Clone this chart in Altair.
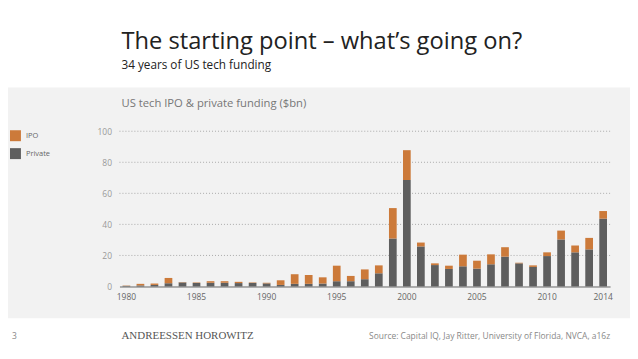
import altair as alt
import pandas as pd

years = list(range(1980, 2015))
private = [0.4, 0.7, 1.0, 2.1, 2.6, 2.3, 2.4, 2.4, 2.2, 2.3, 2.0, 1.0, 1.7, 1.7, 1.9,
           3.4, 3.4, 4.7, 8.5, 30.9, 68.6, 25.8, 13.8, 11.3, 13.0, 11.5, 14.3, 19.2,
           14.9, 12.6, 19.6, 30.3, 22.0, 23.9, 43.7]
ipo = [0.2, 1.0, 0.9, 3.4, 0.2, 0.3, 1.0, 1.0, 0.8, 0.3, 0.4, 3.0, 6.2, 5.7, 4.0,
       10.0, 3.4, 6.3, 5.1, 19.6, 19.2, 2.5, 1.1, 2.1, 7.5, 5.1, 6.4, 6.1,
       0.4, 1.0, 2.4, 5.7, 4.4, 7.4, 4.9]
series = ["IPO", "Private"]
colors = ["#CC7A3A", "#5E5E5E"]
tick_years = [1980, 1985, 1990, 1995, 2000, 2005, 2010, 2014]
y_ticks = [0, 20, 40, 60, 80, 100]

rows = []
for y, p, i in zip(years, private, ipo):
    rows.append({"year": y, "series": "Private", "value": p, "ord": 0})
    rows.append({"year": y, "series": "IPO", "value": i, "ord": 1})
df = pd.DataFrame(rows)

# plot origin is at screen (120, 131)
OX, OY = 120, 131
FONT = "Open Sans"

yscale = alt.Scale(domain=[0, 100], nice=False)
yaxis = alt.Axis(title=None, values=y_ticks, domain=False,
                 ticks=False, labelColor="#999999", labelFontSize=8.5,
                 labelFont=FONT, labelPadding=8, grid=False, zindex=1)

one = pd.DataFrame({"a": [0]})

band = alt.Chart(one).mark_rect(color="#F2F2F2").encode(
    x=alt.value(0 - OX), x2=alt.value(640 - OX),
    y=alt.value(87 - OY), y2=alt.value(319 - OY))

grid = alt.Chart(pd.DataFrame({"value": y_ticks[1:]})).mark_rule(
    color="#aaaaaa", strokeDash=[1, 2], strokeWidth=1).encode(
    y=alt.Y("value:Q", scale=yscale, axis=yaxis),
    x=alt.value(0), x2=alt.value(495))

bars = alt.Chart(df).mark_bar().encode(
    x=alt.X("year:O",
            scale=alt.Scale(paddingInner=0.45, paddingOuter=0.22),
            axis=alt.Axis(title=None, values=tick_years, labelAngle=0, ticks=False,
                          domainColor="#666666", domainWidth=1, labelColor="#666666",
                          labelFontSize=8.5, labelFont=FONT, labelPadding=6,
                          grid=False, zindex=1)),
    y=alt.Y("value:Q", stack="zero", scale=yscale, axis=yaxis),
    color=alt.Color("series:N",
                    scale=alt.Scale(domain=series, range=colors),
                    legend=alt.Legend(title=None, orient="none", legendX=10 - OX,
                                      legendY=130 - OY, symbolType="square",
                                      symbolSize=121, symbolStrokeWidth=0,
                                      symbolOpacity=1, labelFontSize=7.5,
                                      labelFont=FONT, labelColor="#666666",
                                      labelOffset=5, rowPadding=7, padding=0)),
    order=alt.Order("ord:Q", sort="ascending"),
)


def txt(text, x, y, size, color, font=FONT, align="left", weight="normal"):
    return alt.Chart(pd.DataFrame({"t": [text]})).mark_text(
        align=align, baseline="alphabetic", fontSize=size, color=color,
        font=font, fontWeight=weight).encode(
        text="t:N", x=alt.value(x - OX), y=alt.value(y - OY))


title = txt("The starting point \u2013 what\u2019s going on?", 122, 48, 23.8, "#222222")
subtitle = txt("34 years of US tech funding", 122, 68, 11.8, "#222222")
ctitle = txt("US  tech IPO & private funding ($bn)", 122, 107, 11.3, "#777777")
page = txt("3", 12, 340, 8.5, "#888888")
logo = txt("ANDREESSEN HOROWITZ", 122, 340, 11, "#555555", font="Liberation Serif")
source = txt("Source: Capital IQ, Jay Ritter, University of Florida, NVCA, a16z",
             613, 340, 8.5, "#888888", align="right")

chart = alt.layer(band, grid, bars, title, subtitle, ctitle, page, logo, source).properties(
    width=493, height=156,
    autosize=alt.AutoSizeParams(type="none"),
    padding={"left": OX - 8, "top": OY - 8, "right": 20, "bottom": 66},
    background="white",
).configure_view(stroke=None)

chart.save("out.html", embed_options={"renderer": "svg", "actions": False})
